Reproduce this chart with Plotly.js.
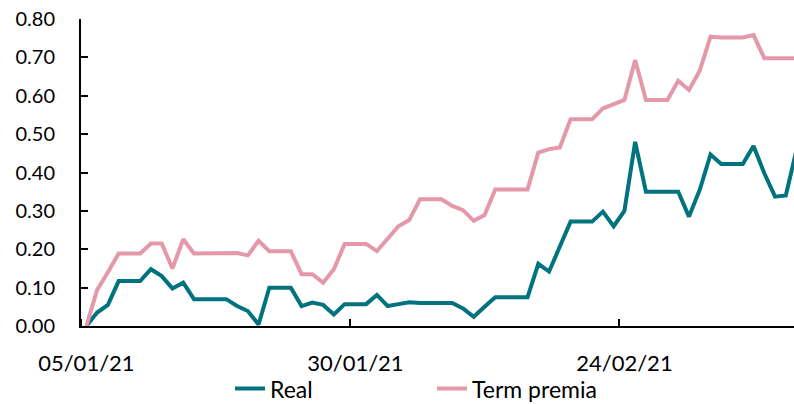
<!DOCTYPE html>
<html>
<head>
<meta charset="utf-8">
<script src="https://cdn.plot.ly/plotly-3.0.1.min.js"></script>
<style>
  html, body { margin: 0; padding: 0; background: #ffffff; }
  #chart { width: 794px; height: 404px; }
</style>
</head>
<body>
<div id="chart"></div>
<script>
// Daily observations (weekends carried forward)
var dates = [
  "2021-01-05","2021-01-06","2021-01-07","2021-01-08","2021-01-09","2021-01-10","2021-01-11",
  "2021-01-12","2021-01-13","2021-01-14","2021-01-15","2021-01-16","2021-01-17","2021-01-18",
  "2021-01-19","2021-01-20","2021-01-21","2021-01-22","2021-01-23","2021-01-24","2021-01-25",
  "2021-01-26","2021-01-27","2021-01-28","2021-01-29","2021-01-30","2021-01-31","2021-02-01",
  "2021-02-02","2021-02-03","2021-02-04","2021-02-05","2021-02-06","2021-02-07","2021-02-08",
  "2021-02-09","2021-02-10","2021-02-11","2021-02-12","2021-02-13","2021-02-14","2021-02-15",
  "2021-02-16","2021-02-17","2021-02-18","2021-02-19","2021-02-20","2021-02-21","2021-02-22",
  "2021-02-23","2021-02-24","2021-02-25","2021-02-26","2021-02-27","2021-02-28","2021-03-01",
  "2021-03-02","2021-03-03","2021-03-04","2021-03-05","2021-03-06","2021-03-07","2021-03-08",
  "2021-03-09","2021-03-10","2021-03-11","2021-03-12"
];

var realValues = [
  0.000, 0.035, 0.055, 0.117, 0.117, 0.117, 0.148,
  0.130, 0.098, 0.113, 0.070, 0.070, 0.070, 0.070,
  0.052, 0.039, 0.004, 0.100, 0.100, 0.100, 0.052,
  0.061, 0.055, 0.030, 0.057, 0.057, 0.057, 0.081,
  0.052, 0.057, 0.062, 0.060, 0.060, 0.060, 0.060,
  0.046, 0.024, 0.050, 0.075, 0.075, 0.075, 0.075,
  0.162, 0.142, 0.207, 0.272, 0.272, 0.272, 0.298,
  0.260, 0.300, 0.480, 0.350, 0.350, 0.350, 0.350,
  0.285, 0.355, 0.447, 0.422, 0.422, 0.422, 0.469,
  0.398, 0.337, 0.340, 0.460
];

var termPremiaValues = [
  0.000, 0.094, 0.140, 0.189, 0.189, 0.189, 0.215,
  0.215, 0.150, 0.226, 0.189, 0.189, 0.189, 0.190,
  0.190, 0.184, 0.222, 0.195, 0.195, 0.195, 0.135,
  0.135, 0.113, 0.148, 0.214, 0.214, 0.214, 0.195,
  0.226, 0.260, 0.276, 0.330, 0.330, 0.330, 0.313,
  0.302, 0.274, 0.289, 0.356, 0.356, 0.356, 0.356,
  0.452, 0.461, 0.465, 0.539, 0.539, 0.539, 0.567,
  0.578, 0.589, 0.693, 0.589, 0.589, 0.589, 0.639,
  0.615, 0.665, 0.754, 0.752, 0.752, 0.752, 0.758,
  0.698, 0.698, 0.698, 0.698
];

var seriesNames = ["Real", "Term premia"];
var tickDates = ["2021-01-05", "2021-01-30", "2021-02-24"];
var tickLabels = ["05/01/21", "30/01/21", "24/02/21"];
var tickMarkDates = ["2021-01-04 12:00", "2021-01-29 12:00", "2021-02-23 12:00"];

var FONT = "Lato, 'Open Sans', sans-serif";

var traces = [
  {
    x: dates, y: realValues, name: seriesNames[0],
    type: "scatter", mode: "lines",
    line: { color: "#00737E", width: 4 }
  },
  {
    x: dates, y: termPremiaValues, name: seriesNames[1],
    type: "scatter", mode: "lines",
    line: { color: "#E498AA", width: 4 }
  }
];

var layout = {
  width: 794, height: 404,
  margin: { l: 81, r: 0, t: 19, b: 78, pad: 0 },
  paper_bgcolor: "#ffffff",
  plot_bgcolor: "#ffffff",
  font: { family: FONT, color: "#000000", size: 20 },
  showlegend: true,
  xaxis: {
    type: "date",
    range: ["2021-01-04 12:00", "2021-03-11 18:15"],
    tickmode: "array",
    tickvals: tickDates,
    ticktext: tickLabels,
    ticks: "",
    tickfont: { family: FONT, size: 22, color: "#000000" },
    ticklabelstandoff: 17,
    showgrid: false,
    zeroline: false,
    showline: true,
    linecolor: "#000000",
    linewidth: 2,
    minor: {
      tickmode: "array",
      tickvals: tickMarkDates,
      ticks: "inside",
      ticklen: 7,
      tickwidth: 2,
      tickcolor: "#000000",
      showgrid: false
    },
    fixedrange: true
  },
  yaxis: {
    range: [0, 0.8],
    tickmode: "linear",
    tick0: 0,
    dtick: 0.1,
    tickformat: ".2f",
    ticks: "inside",
    ticklen: 7,
    tickwidth: 2,
    tickcolor: "#000000",
    tickfont: { family: FONT, size: 20, color: "#000000" },
    ticklabelstandoff: 20,
    showgrid: false,
    zeroline: false,
    showline: true,
    linecolor: "#000000",
    linewidth: 2,
    fixedrange: true
  },
  legend: {
    orientation: "h",
    xref: "paper",
    x: 0.209,
    xanchor: "left",
    yref: "container",
    y: 0.038,
    yanchor: "middle",
    font: { family: FONT, size: 23, color: "#000000" },
    bgcolor: "rgba(0,0,0,0)",
    entrywidth: 157,
    entrywidthmode: "pixels"
  }
};

Plotly.newPlot("chart", traces, layout, { displayModeBar: false, staticPlot: true });
</script>
</body>
</html>
